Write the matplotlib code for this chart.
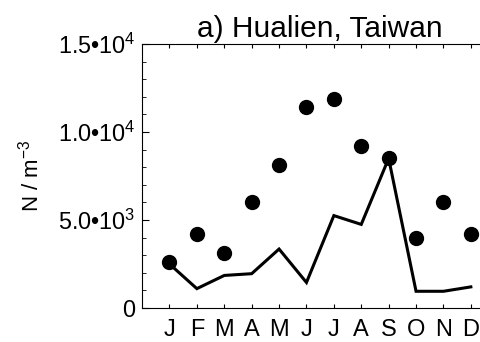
import matplotlib
matplotlib.use("Agg")
import matplotlib.pyplot as plt
from matplotlib.ticker import FuncFormatter, MultipleLocator

plt.rcParams["font.family"] = ["Liberation Sans", "DejaVu Sans"]
plt.rcParams["mathtext.fontset"] = "custom"
plt.rcParams["mathtext.rm"] = "Liberation Sans"
plt.rcParams["mathtext.it"] = "Liberation Sans:italic"

months = ["J", "F", "M", "A", "M", "J", "J", "A", "S", "O", "N", "D"]
observed = [2600, 4200, 3150, 6000, 8100, 11400, 11900, 9200, 8500, 3950, 6000, 4200]
model = [2500, 1100, 1850, 1950, 3350, 1450, 5250, 4750, 8500, 950, 950, 1200]


def sci_fmt(v, pos):
    if v == 0:
        return "0"
    exp = len(str(int(v))) - 1
    return f"{v / 10**exp:.1f}•10$^{{{exp}}}$"


fig = plt.figure(figsize=(4.8, 3.42), dpi=100)
ax = fig.add_axes([0.296, 0.0994, 0.742, 0.772])

x = list(range(1, 13))
ax.plot(x, model, color="black", lw=2.2, solid_joinstyle="miter")
ax.plot(x, observed, "o", color="black", ms=10)

ax.set_xlim(0, 13)
ax.set_ylim(0, 15000)
ax.set_xticks(x)
ax.set_xticklabels(months)
ax.yaxis.set_major_locator(MultipleLocator(5000))
ax.yaxis.set_minor_locator(MultipleLocator(1000))
ax.yaxis.set_major_formatter(FuncFormatter(sci_fmt))

ax.tick_params(axis="x", which="both", direction="in", top=True, length=3,
               labelsize=17, pad=8)
ax.tick_params(axis="y", which="major", direction="in", length=5, labelsize=16.8, pad=5)
ax.tick_params(axis="y", which="minor", direction="in", length=3)
ax.spines["right"].set_visible(False)

ax.set_ylabel("N / m$^{-3}$", fontsize=16, labelpad=10)
ax.set_title("a) Hualien, Taiwan", fontsize=21.5, pad=5, x=0.5)

fig.savefig("out.png", dpi=100)
